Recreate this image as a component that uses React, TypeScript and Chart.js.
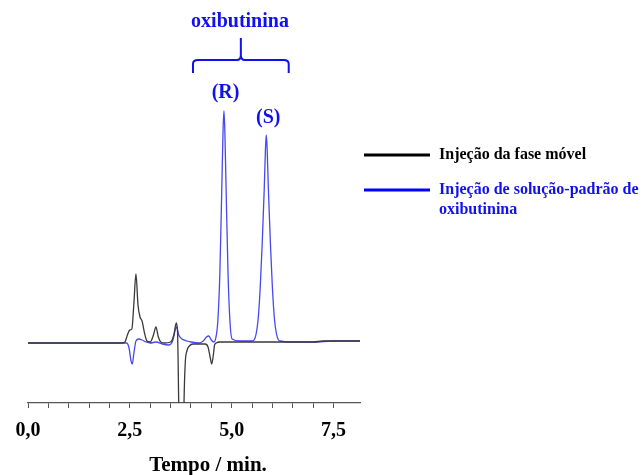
import React, { useEffect, useRef } from "react";
import { Chart, registerables } from "chart.js";

Chart.register(...registerables);

// Tempo (min) e sinal – injeção da fase móvel
const blackTimes = [0, 1.0, 2.0, 2.3, 2.38, 2.44, 2.5, 2.55, 2.6, 2.65, 2.7, 2.75, 2.8, 2.86, 2.92, 3.0, 3.08, 3.14, 3.2, 3.26, 3.35, 3.5, 3.58, 3.64, 3.67, 3.7, 3.74, 3.8, 3.83, 3.86, 3.9, 3.96, 4.05, 4.2, 4.35, 4.42, 4.47, 4.51, 4.55, 4.58, 4.62, 4.7, 5.0, 6.0, 7.0, 7.25, 8.15];
const blackValues = [0, 0, 0, 0, 1, 8, 13, 14, 40, 69, 38, 26, 22, 10, 2, 1, 8, 16, 6, 1, 0, 1, 8, 20, 12, -60, -160, -160, -60, -20, -8, -3, -1, -1, -1, -4, -14, -21, -12, -2, 0, 1, 1, 1, 1, 2, 2];

// Tempo (min) e sinal – injeção de solução-padrão de oxibutinina
const blueTimes = [0, 2.3, 2.42, 2.48, 2.53, 2.56, 2.6, 2.65, 2.72, 2.8, 2.9, 3.0, 3.15, 3.3, 3.45, 3.55, 3.62, 3.65, 3.7, 3.78, 3.9, 4.0, 4.2, 4.3, 4.38, 4.44, 4.5, 4.56, 4.61, 4.66, 4.71, 4.76, 4.79, 4.81, 4.83, 4.86, 4.91, 4.96, 5.01, 5.2, 5.5, 5.55, 5.6, 5.65, 5.7, 5.75, 5.8, 5.83, 5.85, 5.87, 5.9, 5.95, 6.0, 6.05, 6.1, 6.15, 6.2, 6.5, 7.0, 7.5, 8.15];
const blueValues = [0, 0, 0, -5, -18, -21, -10, 2, 4, 3, 1, 0, 1, -1, -2, 2, 14, 16, 8, 4, 2, 1, 0, 2, 6, 7, 3, 1, 5, 22, 70, 160, 215, 232, 215, 160, 70, 20, 4, 2, 2, 3, 9, 24, 55, 100, 155, 195, 208, 195, 155, 100, 55, 24, 9, 3, 2, 1, 1, 2, 2];

const xTickLabels = ["0,0", "2,5", "5,0", "7,5"];
const seriesNames = ["Injeção da fase móvel", "Injeção de solução-padrão de", "oxibutinina"];
const compoundLabel = "oxibutinina";
const peakLabels = ["(R)", "(S)"];
const peakTimes = [4.8, 5.85];
const axisTitle = "Tempo / min.";

const SERIF = '"Liberation Serif", "Times New Roman", serif';
const BLUE_TEXT = "#1010f0";

const overlayPlugin = {
  id: "overlay",
  afterDraw(chart: any) {
    const ctx = chart.ctx;
    const xs = chart.scales.x;
    ctx.save();
    // axis title
    ctx.fillStyle = "#000";
    ctx.font = `bold 21px ${SERIF}`;
    ctx.textAlign = "center";
    ctx.textBaseline = "middle";
    ctx.fillText(axisTitle, 208, 466);

    // compound label + brace
    ctx.fillStyle = BLUE_TEXT;
    ctx.font = `bold 20px ${SERIF}`;
    ctx.fillText(compoundLabel, 240, 22);
    ctx.strokeStyle = BLUE_TEXT;
    ctx.lineWidth = 2;
    const bx1 = xs.getPixelForValue(4.05);
    const bx2 = xs.getPixelForValue(6.4);
    const bm = (bx1 + bx2) / 2;
    ctx.beginPath();
    ctx.moveTo(bx1, 73);
    ctx.lineTo(bx1, 64);
    ctx.quadraticCurveTo(bx1, 60, bx1 + 5, 60);
    ctx.lineTo(bm - 4, 60);
    ctx.quadraticCurveTo(bm, 60, bm, 55);
    ctx.lineTo(bm, 38);
    ctx.moveTo(bm, 55);
    ctx.quadraticCurveTo(bm, 60, bm + 4, 60);
    ctx.lineTo(bx2 - 5, 60);
    ctx.quadraticCurveTo(bx2, 60, bx2, 64);
    ctx.lineTo(bx2, 73);
    ctx.stroke();

    // peak labels
    ctx.font = `bold 20px ${SERIF}`;
    ctx.fillText(peakLabels[0], xs.getPixelForValue(peakTimes[0]) + 2, 93);
    ctx.fillText(peakLabels[1], xs.getPixelForValue(peakTimes[1]) + 2, 118);

    // legend
    ctx.lineWidth = 3;
    ctx.strokeStyle = "#000";
    ctx.beginPath();
    ctx.moveTo(364, 155);
    ctx.lineTo(430, 155);
    ctx.stroke();
    ctx.strokeStyle = "#0000ff";
    ctx.beginPath();
    ctx.moveTo(364, 190);
    ctx.lineTo(430, 190);
    ctx.stroke();
    ctx.textAlign = "left";
    ctx.font = `bold 16px ${SERIF}`;
    ctx.fillStyle = "#000";
    ctx.fillText(seriesNames[0], 439, 155);
    ctx.fillStyle = BLUE_TEXT;
    ctx.fillText(seriesNames[1], 439, 190);
    ctx.fillText(seriesNames[2], 439, 210);
    ctx.restore();
  },
};

export default function App() {
  const ref = useRef<HTMLCanvasElement>(null);
  useEffect(() => {
    if (!ref.current) return;
    const chart = new Chart(ref.current, {
      type: "line",
      data: {
        datasets: [
          {
            label: seriesNames[0],
            data: blackTimes.map((t, i) => ({ x: t, y: blackValues[i] })),
            borderColor: "#3a3a3a",
            borderWidth: 1.3,
            pointRadius: 0,
            cubicInterpolationMode: "monotone",
          },
          {
            label: seriesNames[1] + " " + seriesNames[2],
            data: blueTimes.map((t, i) => ({ x: t, y: blueValues[i] })),
            borderColor: "#4848f0",
            borderWidth: 1.3,
            pointRadius: 0,
            cubicInterpolationMode: "monotone",
          },
        ],
      },
      options: {
        animation: false,
        responsive: false,
        devicePixelRatio: 1,
        layout: { padding: { left: 28, right: 282, top: 10, bottom: 0 } },
        plugins: { legend: { display: false }, tooltip: { enabled: false } },
        scales: {
          x: {
            type: "linear",
            min: 0,
            max: 8.15,
            afterBuildTicks: (s: any) => {
              s.ticks = s.ticks.filter((t: any) => Math.abs(t.value * 2 - Math.round(t.value * 2)) < 1e-6);
            },
            afterFit: (s: any) => {
              s.height = 72;
            },
            ticks: {
              stepSize: 0.5,
              autoSkip: false,
              maxRotation: 0,
              padding: 11,
              color: "#000",
              font: { family: SERIF, size: 20, weight: "bold" },
              callback: (v: any) => {
                const k = v / 2.5;
                if (Math.abs(k - Math.round(k)) < 1e-6) return xTickLabels[Math.round(k)] ?? "";
                return "";
              },
            },
            grid: { drawOnChartArea: false, drawTicks: true, tickLength: 5, color: "#555" },
            border: { display: true, color: "#555", width: 1.3 },
          },
          y: { display: false, min: -60, max: 333 },
        },
      },
      plugins: [overlayPlugin],
    });
    return () => chart.destroy();
  }, []);
  return (
    <div style={{ position: "fixed", left: 0, top: 0, width: 642, height: 475, background: "#fff" }}>
      <canvas ref={ref} width={642} height={475} />
    </div>
  );
}
